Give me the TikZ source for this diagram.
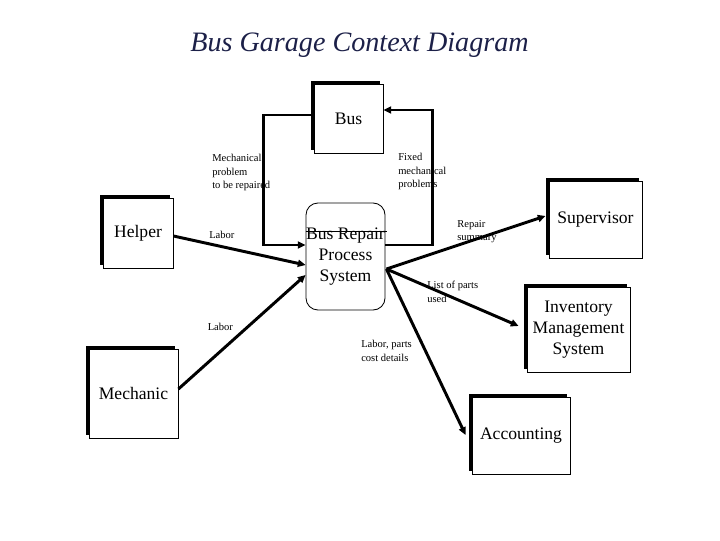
\documentclass[tikz,border=0pt]{standalone}
\usepackage{fontspec}
\setmainfont{Liberation Serif}
\usetikzlibrary{arrows.meta,shadows,calc}
\definecolor{titlenavy}{HTML}{1C2048}

\begin{document}
\begin{tikzpicture}[x=0.025cm, y=0.025cm,
    entity/.style={rectangle, draw, fill=white, line width=0.6pt, inner sep=0pt, align=center,
        font=\fontsize{12.5}{15}\selectfont,
        general shadow={fill=black, shadow xshift=-2.3pt, shadow yshift=2.3pt}},
    process/.style={rectangle, rounded corners=8.5pt, draw, fill=white, line width=0.6pt, inner sep=0pt,
        align=center, font=\fontsize{12.5}{15}\selectfont},
    flow/.style={line width=2.1pt, -{Triangle[length=5.5pt,width=5pt]}},
    flowlabel/.style={anchor=north west, inner sep=0pt, align=left, font=\fontsize{7.5}{9.6}\selectfont}]
                    \useasboundingbox (0,0) rectangle (720,540);

                    % Title
                    \node[anchor=base, text=titlenavy, font=\fontsize{20}{24}\selectfont\itshape] (title) at (359.5,488) {Bus Garage Context Diagram};

                    % External entities
                    \node[entity, minimum width=1.725cm, minimum height=1.725cm] (bus) at (348.5,421.5) {Bus};
                    \node[entity, minimum width=1.75cm, minimum height=1.75cm] (helper) at (138,307) {Helper};
                    \node[entity, minimum width=2.225cm, minimum height=2.225cm] (mech) at (133.5,146.5) {Mechanic};
                    \node[entity, minimum width=2.325cm, minimum height=1.925cm] (sup) at (595.5,320.5) {Supervisor};
                    \node[entity, minimum width=2.575cm, minimum height=2.125cm] (inv) at (578.5,210.5) {Inventory\\Management\\System};
                    \node[entity, minimum width=2.45cm, minimum height=1.925cm] (acc) at (521,104.5) {Accounting};

                    % Process
                    \node[process, minimum width=1.975cm, minimum height=2.675cm] (proc) at (345.5,283.5) {Bus Repair\\Process\\System};
                    \draw[line width=0.6pt] ($(proc.west)+(0,25.5)$) -- ++(81,0);

                    % Bus loop
                    \draw[flow] ($(bus.west)+(0,3.5)$) -- ++(-50,0) |- ($(proc.west)+(0,11.5)$);
                    \draw[flow] ($(proc.east)+(0,11.5)$) -- ++(47,0) |- ($(bus.east)+(0,8.5)$);

                    % Labor in
                    \draw[flow] ($(helper.east)+(0,-3)$) -- ($(proc.west)+(0,-8.5)$);
                    \draw[flow] ($(mech.east)+(0,4.5)$) -- ($(proc.west)+(0,-18.5)$);

                    % Outputs
                    \coordinate (out) at ($(proc.east)+(1,-12.5)$);
                    \draw[flow] (out) -- ($(sup.west)+(-3,3.5)$);
                    \draw[flow] (out) -- ($(inv.west)+(-8,3.5)$);
                    \draw[flow] (out) -- ($(acc.west)+(-6,0.5)$);

                    % Flow labels
                    \node[flowlabel] (lprob) at (212,386) {Mechanical\\problem\\to be repaired};
                    \node[flowlabel] (lfixed) at (398,387) {Fixed\\mechanical\\problems};
                    \node[flowlabel, anchor=west] (lhelp) at (209,305) {Labor};
                    \node[flowlabel, anchor=west] (lmechlab) at (207.5,213) {Labor};
                    \node[flowlabel] (lsum) at (457,320) {Repair\\summary};
                    \node[flowlabel] (lparts) at (427,259) {List of parts\\used};
                    \node[flowlabel] (lcost) at (361,200) {Labor, parts\\cost details};
                \end{tikzpicture}
\end{document}
